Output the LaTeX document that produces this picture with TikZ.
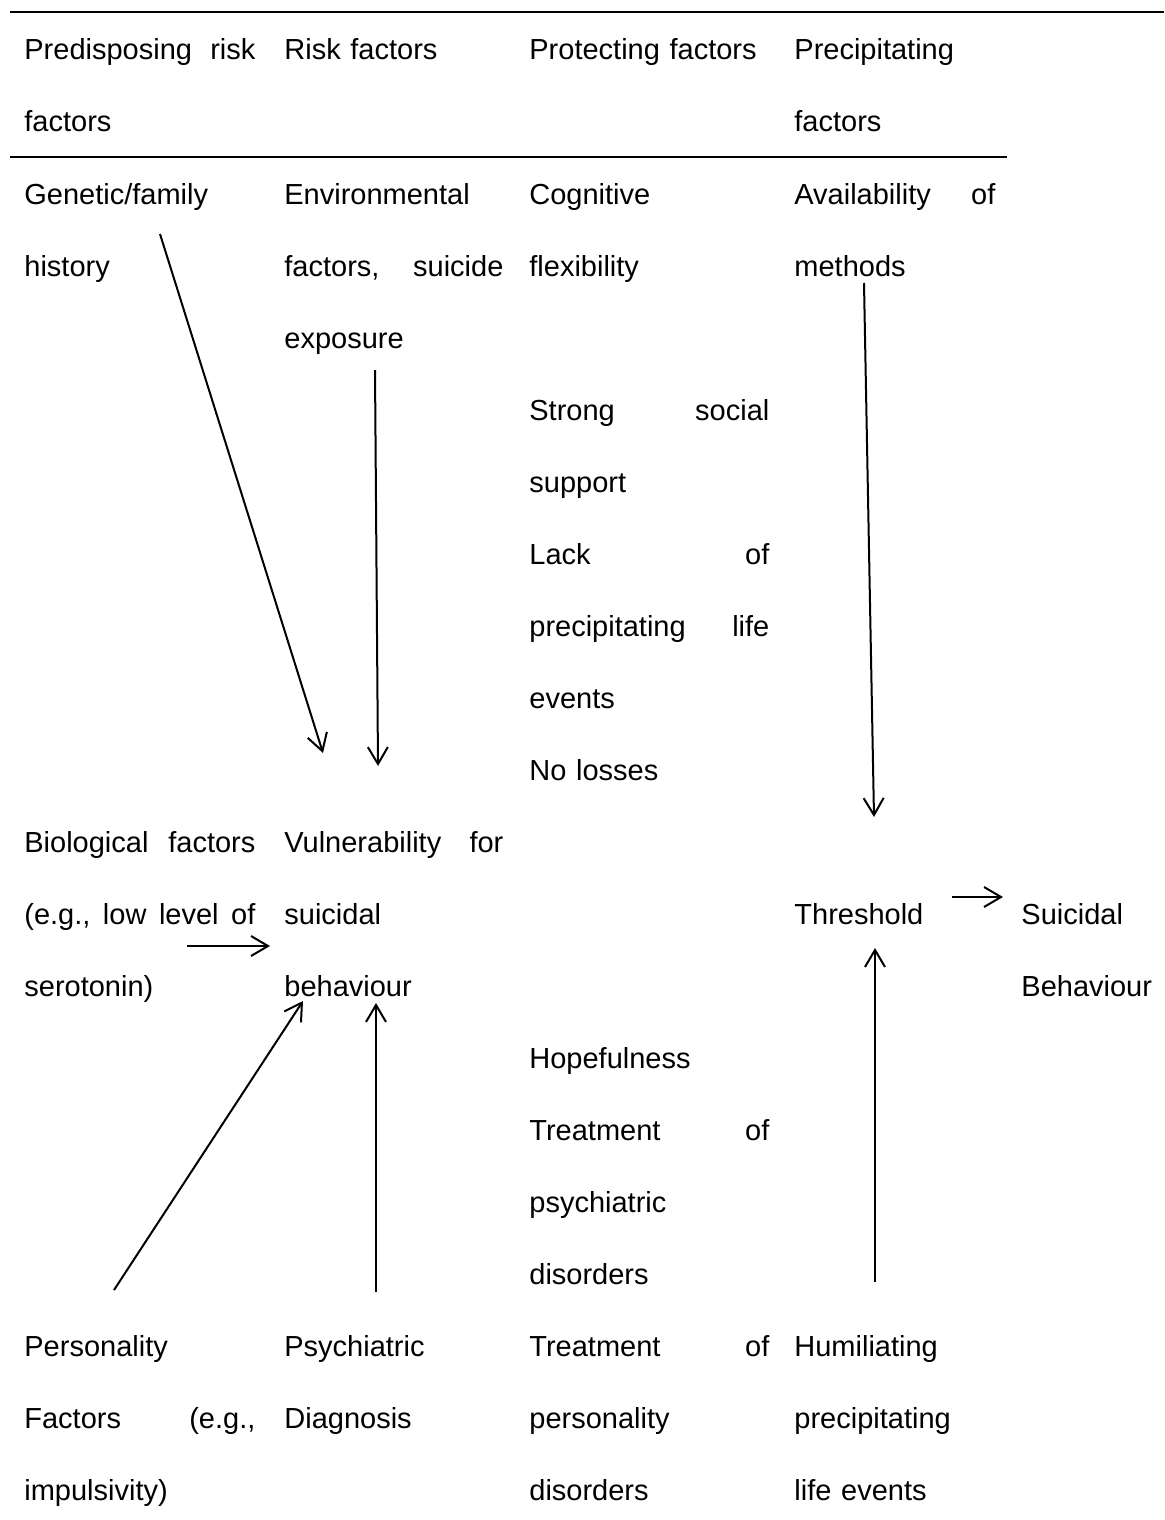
\documentclass[tikz,border=0pt]{standalone}
\usepackage{fontspec}
\setmainfont{Liberation Sans}
\usetikzlibrary{arrows.meta}
\usetikzlibrary{positioning}
\tikzset{cell/.style={anchor=base west, inner sep=0pt, align=left, font=\fontsize{14.5}{36}\selectfont},
         ColA/.style={cell, text width=115.5pt},
         ColB/.style={cell, text width=109.5pt},
         ColC/.style={cell, text width=120pt},
         ColD/.style={cell, text width=100.5pt},
         ColE/.style={cell, text width=70pt},
         rule/.style={line width=1pt},
         link/.style={line width=1pt, -{Straight Barb[length=8.5pt, width=10pt]}}}

\begin{document}
\begin{tikzpicture}[x=0.5pt, y=-0.5pt]
  \useasboundingbox (0,0) rectangle (1164,1520);
  % head of the table
  \node[ColA] (Pre) at (24,60) {Predisposing\hfill risk\\factors};
  \node[ColB] (Rsk) at (284,60) {Risk factors};
  \node[ColC] (Pro) at (529,60) {Protecting factors};
  \node[ColD] (Prc) at (794,60) {Precipitating\\factors};
  \coordinate (T0) at (10,12);
  \coordinate (T1) at (1164,12);
  \coordinate (H0) at (10,157);
  \coordinate (H1) at (1007,157);
  \draw[rule] (T0) -- (T1);
  \draw[rule] (H0) -- (H1);
  % first column
  \node[ColA] (Gen) at (24,204) {Genetic/family\\history};
  \node[ColA] (Bio) at (24,852) {Biological\hfill factors\\(e.g.,\hfill low\hfill level\hfill of\\serotonin)};
  \node[ColA] (Per) at (24,1356) {Personality\\Factors\hfill (e.g.,\\impulsivity)};
  % second column
  \node[ColB] (Env) at (284,204) {Environmental\\factors,\hfill suicide\\exposure};
  \node[ColB] (Vul) at (284,852) {Vulnerability\hfill for\\suicidal\\behaviour};
  \node[ColB] (Psy) at (284,1356) {Psychiatric\\Diagnosis};
  % third column
  \node[ColC] (Cog) at (529,204) {Cognitive\\flexibility};
  \node[ColC] (Soc) at (529,420) {Strong\hfill social\\support};
  \node[ColC] (Lck) at (529,564) {Lack\hfill of\\precipitating\hfill life\\events};
  \node[ColC] (Nol) at (529,780) {No losses};
  \node[ColC] (Hop) at (529,1068) {Hopefulness};
  \node[ColC] (TrA) at (529,1140) {Treatment\hfill of\\psychiatric\\disorders};
  \node[ColC] (TrB) at (529,1356) {Treatment\hfill of\\personality\\disorders};
  % fourth and fifth column
  \node[ColD] (Avl) at (794,204) {Availability\hfill of\\methods};
  \node[ColD] (Thr) at (794,924) {Threshold};
  \node[ColD] (Hum) at (794,1356) {Humiliating\\precipitating\\life events};
  \node[ColE] (Sui) at (1021,924) {Suicidal\\Behaviour};
  % ends of the arrows
  \coordinate (GenA) at (160,234);
  \coordinate (GenB) at (323,753);
  \coordinate (EnvA) at (375,370);
  \coordinate (EnvB) at (378,766);
  \coordinate (BioA) at (187,946);
  \coordinate (BioB) at (270,946);
  \coordinate (PerA) at (114,1290);
  \coordinate (PerB) at (303,1001);
  \coordinate (PsyA) at (376,1292);
  \coordinate (PsyB) at (376,1003);
  \coordinate (AvlA) at (864,283);
  \coordinate (AvlB) at (874,817);
  \coordinate (HumA) at (875,1282);
  \coordinate (HumB) at (875,948);
  \coordinate (ThrA) at (952,897);
  \coordinate (ThrB) at (1003,897);
  \draw[link] (GenA) -- (GenB);
  \draw[link] (EnvA) -- (EnvB);
  \draw[link] (BioA) -- (BioB);
  \draw[link] (PerA) -- (PerB);
  \draw[link] (PsyA) -- (PsyB);
  \draw[link] (AvlA) -- (AvlB);
  \draw[link] (HumA) -- (HumB);
  \draw[link] (ThrA) -- (ThrB);
\end{tikzpicture}
\end{document}
